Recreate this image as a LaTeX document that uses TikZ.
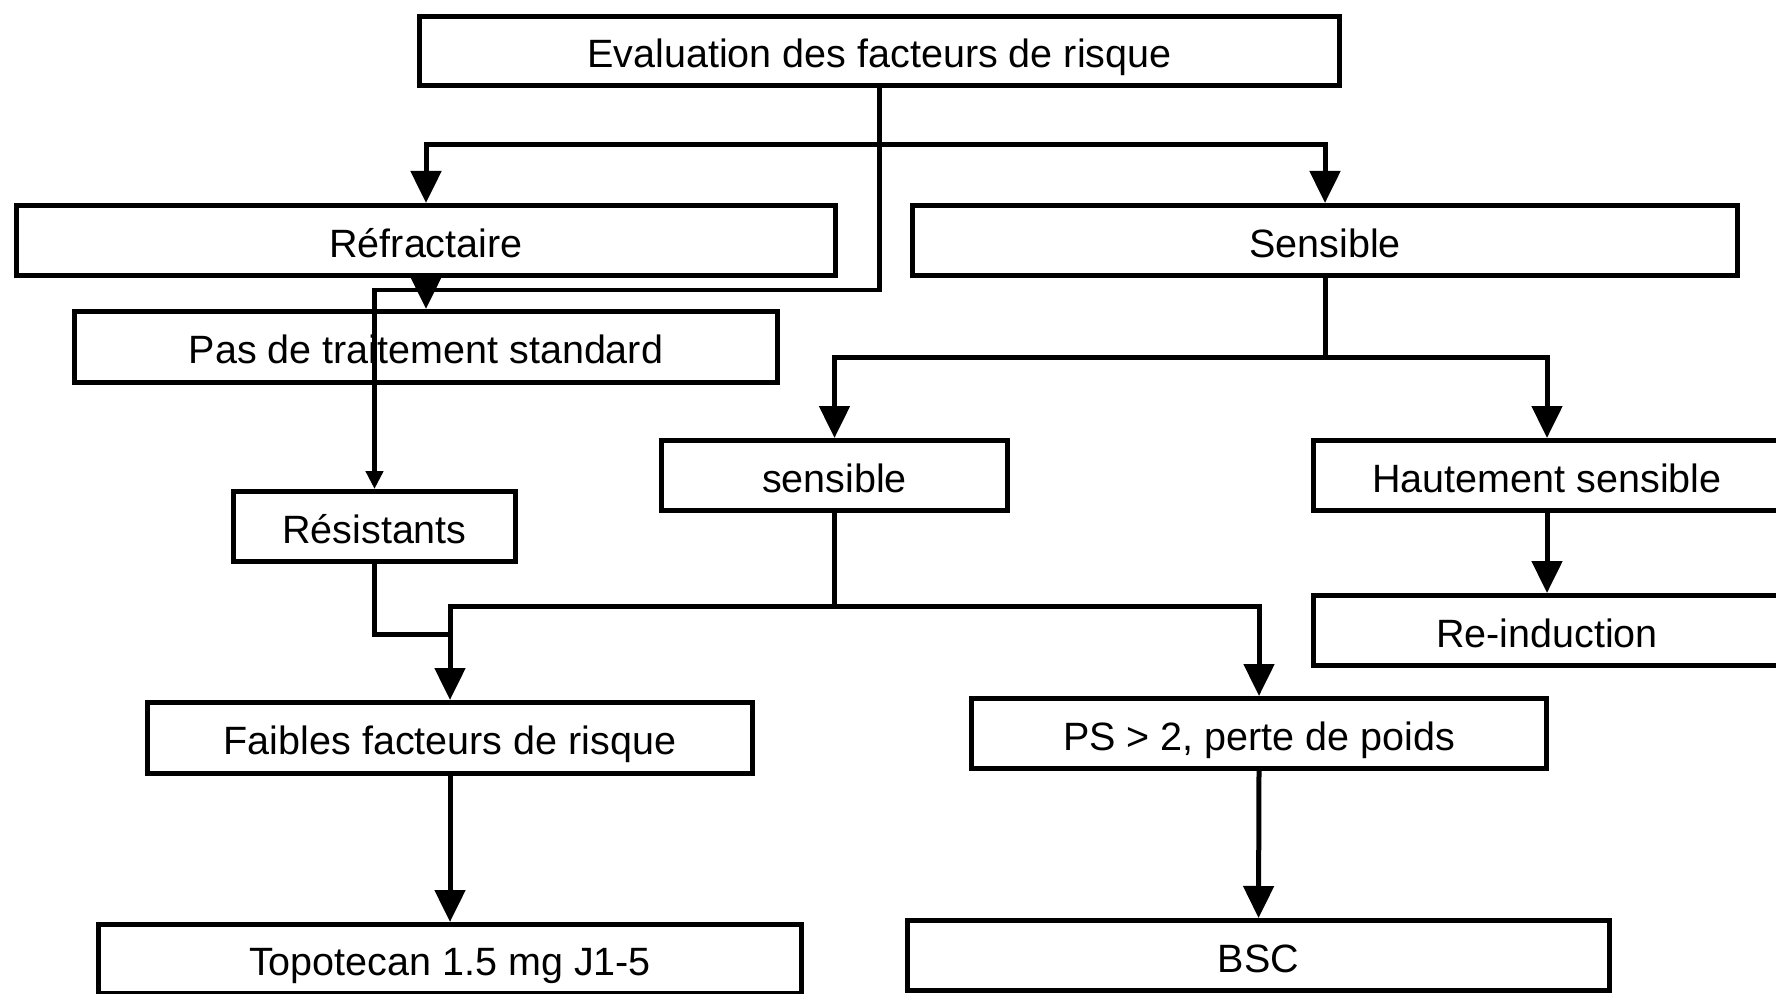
\documentclass[tikz,border=0pt]{standalone}
\usepackage{fontspec}
\setmainfont{Liberation Sans}
\usetikzlibrary{arrows.meta,calc}
\begin{document}
\begin{tikzpicture}[x=0.5pt,y=-0.5pt,
  box/.style={draw=black, line width=2.5pt, fill=white, inner sep=0pt,
    font=\fontsize{19.75pt}{22pt}\selectfont, align=center,
    text height=16.8pt, text depth=0pt},
  conn/.style={draw=black, line width=2.5pt},
  bigarr/.style={conn, -{Triangle[width=15pt,length=16pt]}},
  smallarr/.style={conn, line width=2.25pt, -{Triangle[width=8.5pt,length=9pt]}}
]
\useasboundingbox (0,0) rectangle (1776,994);
\clip (0,0) rectangle (1776,994);
\fill[white] (0,0) rectangle (1776,994);

% boxes
\node[box, minimum width=920pt/2, minimum height=69pt/2] (eval) at (879.5,51) {Evaluation des facteurs de risque};
\node[box, minimum width=819pt/2, minimum height=70pt/2] (refr) at (426,240.5) {Réfractaire};
\node[box, minimum width=825pt/2, minimum height=70pt/2] (sens) at (1325,240.5) {Sensible};
\node[box, minimum width=703pt/2, minimum height=71pt/2] (pas) at (426,347) {Pas de traitement standard};
\node[box, minimum width=282pt/2, minimum height=70pt/2] (resist) at (374.5,526.5) {Résistants};
\node[box, minimum width=346pt/2, minimum height=70pt/2] (sensib) at (834.5,475.5) {sensible};
\node[box, minimum width=467pt/2, minimum height=70pt/2] (haut) at (1547,475.5) {Hautement sensible};
\node[box, minimum width=467pt/2, minimum height=70pt/2] (reind) at (1547,630.5) {Re-induction};
\node[box, minimum width=605pt/2, minimum height=71pt/2] (faibles) at (450,738) {Faibles facteurs de risque};
\node[box, minimum width=575pt/2, minimum height=70pt/2] (ps) at (1259,733.5) {PS > 2, perte de poids};
\node[box, minimum width=703pt/2, minimum height=69pt/2] (topo) at (450,959) {Topotecan 1.5 mg J1-5};
\node[box, minimum width=702pt/2, minimum height=70pt/2] (bsc) at (1258.5,955.5) {BSC};

% junction coordinates
\coordinate (jtop) at (879.5,145);
\coordinate (jtrunk) at (879.5,290);
\coordinate (jsens) at (1325,358);
\coordinate (jsensib) at (834.5,606);
\coordinate (jres) at (450,634);

% connectors
\draw[conn] (eval.south) -- (jtop);
\draw[bigarr] (jtop) -| (refr.north);
\draw[bigarr] (jtop) -| (sens.north);
\draw[smallarr] (jtop) -- (jtrunk) -| (resist.north);
\draw[bigarr] (refr.south) -- (pas.north);
\draw[conn] (sens.south) -- (jsens);
\draw[bigarr] (jsens) -| (sensib.north);
\draw[bigarr] (jsens) -| (haut.north);
\draw[bigarr] (haut.south) -- (reind.north);
\draw[conn] (sensib.south) -- (jsensib);
\draw[bigarr] (jsensib) -| (faibles.north);
\draw[bigarr] (jsensib) -| (ps.north);
\draw[conn] (resist.south) |- (jres);
\draw[bigarr] (faibles.south) -- (topo.north);
\draw[bigarr] (ps.south) -- (bsc.north);
\end{tikzpicture}
\end{document}
